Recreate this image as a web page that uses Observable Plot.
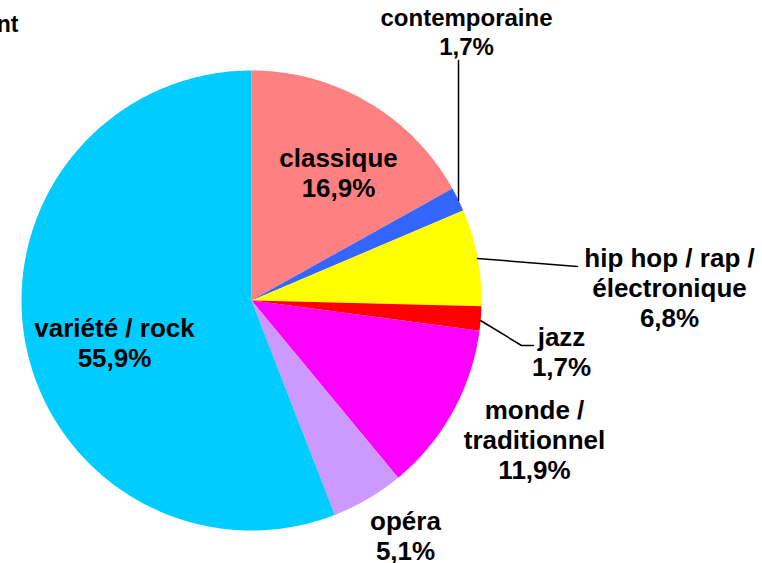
<!DOCTYPE html>
<html>
<head>
<meta charset="utf-8">
<script src="https://cdn.jsdelivr.net/npm/d3@7"></script>
<script src="https://cdn.jsdelivr.net/npm/@observablehq/plot@0.6"></script>
<style>
  html, body { margin: 0; padding: 0; background: #fff; }
</style>
</head>
<body>
<div id="chart"></div>
<script>
// ---- data ----
const titleText = "nt";
const genres = ["classique", "contemporaine", "hip hop / rap /\nélectronique", "jazz", "monde /\ntraditionnel", "opéra", "variété / rock"];
const shares = [16.9, 1.7, 6.8, 1.7, 11.9, 5.1, 55.9];
const colors = ["#FF8080", "#3366FF", "#FFFF00", "#FF0000", "#FF00FF", "#CC99FF", "#00CCFF"];

// ---- layout (pixels) ----
const W = 762, H = 563;
const cx = 251, cy = 300, R = 230;
const labelPos = [[338, 172], [466, 31], [669, 287], [561, 351], [534, 439], [405, 535], [114, 342]];
const labelSize = [26, 24, 26, 26, 26, 26, 26];
const leaders = [
  [[458, 60], [458, 200]],
  [[477, 258], [577, 266]],
  [[480, 320], [521, 345], [533, 345]]
];

const fmt = v => v.toFixed(1).replace(".", ",") + "%";

// wedge polygons from the data
const total = d3.sum(shares);
const wedgePts = [];
let acc = 0;
shares.forEach((v, i) => {
  const a0 = acc / total * 2 * Math.PI;
  acc += v;
  const a1 = acc / total * 2 * Math.PI;
  wedgePts.push({g: genres[i], x: cx, y: cy});
  const n = Math.max(2, Math.ceil((a1 - a0) / (Math.PI / 360)));
  for (let k = 0; k <= n; k++) {
    const a = a0 + (a1 - a0) * k / n;
    wedgePts.push({g: genres[i], x: cx + R * Math.sin(a), y: cy - R * Math.cos(a)});
  }
  wedgePts.push({g: genres[i], x: cx, y: cy});
});

const labels = genres.map((g, i) => ({text: g + "\n" + fmt(shares[i]), x: labelPos[i][0], y: labelPos[i][1], s: labelSize[i]}));
const big = labels.filter(d => d.s === 26);
const small = labels.filter(d => d.s !== 26);
const leaderPts = leaders.flatMap((l, j) => l.map(([x, y]) => ({j, x, y})));
const font = "Liberation Sans, Arial, sans-serif";

const chart = Plot.plot({
  width: W, height: H,
  margin: 0,
  x: {domain: [0, W], range: [0, W], axis: null},
  y: {domain: [0, H], range: [0, H], axis: null},
  color: {domain: genres, range: colors},
  style: {background: "white"},
  marks: [
    Plot.line(wedgePts, {x: "x", y: "y", z: "g", fill: "g", stroke: "none", curve: "linear-closed"}),
    Plot.line(leaderPts, {x: "x", y: "y", z: "j", stroke: "#000", strokeWidth: 1.5}),
    Plot.text(big, {x: "x", y: "y", text: "text", fontSize: 26, fontWeight: "bold",
      fontFamily: font, fill: "#000", lineHeight: 30 / 26, lineAnchor: "middle"}),
    Plot.text(small, {x: "x", y: "y", text: "text", fontSize: 24, fontWeight: "bold",
      fontFamily: font, fill: "#000", lineHeight: 29 / 24, lineAnchor: "middle"}),
    Plot.text([titleText], {x: 18, y: 24, text: d => d, textAnchor: "end", fontSize: 23, fontWeight: "bold",
      fontFamily: font, fill: "#000"})
  ]
});
document.getElementById("chart").append(chart);
</script>
</body>
</html>
